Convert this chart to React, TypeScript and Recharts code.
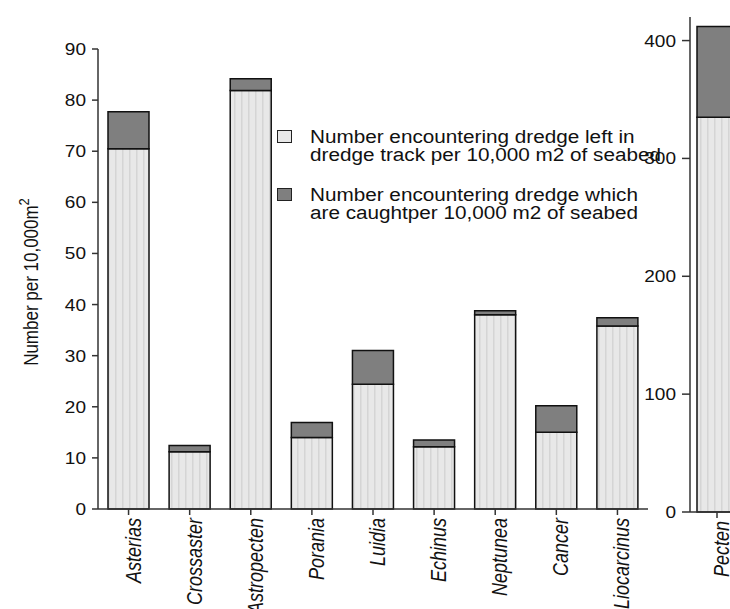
import React from 'react';
import { BarChart, Bar, XAxis, YAxis } from 'recharts';

// Species (main panel) and their densities per 10,000 m2 of seabed
const categories = ['Asterias', 'Crossaster', 'Astropecten', 'Porania', 'Luidia', 'Echinus', 'Neptunea', 'Cancer', 'Liocarcinus'];
const leftInTrack = [70.5, 11.2, 81.9, 14.0, 24.4, 12.2, 38.0, 15.0, 35.8];
const caught = [7.2, 1.2, 2.3, 2.9, 6.6, 1.3, 0.8, 5.2, 1.6];

// Pecten is drawn on its own scale
const pectenCategories = ['Pecten'];
const pectenLeftInTrack = [335];
const pectenCaught = [77];

const mainTicks = [0, 10, 20, 30, 40, 50, 60, 70, 80, 90];
const pectenTicks = [0, 100, 200, 300, 400];

const seriesNames = [
  'Number encountering dredge left in\ndredge track per 10,000 m2 of seabed',
  'Number encountering dredge which\nare caughtper 10,000 m2 of seabed',
];
const yAxisTitle = 'Number per 10,000m';
const yAxisTitleSup = '2';

const FONT = '"Liberation Sans", Arial, sans-serif';
const LIGHT_BG = '#e8e8e8';
const DARK = '#7f7f7f';
const AXIS = '#333';

const mainData = categories.map((name, i) => ({ name, left: leftInTrack[i], caught: caught[i] }));
const pectenData = pectenCategories.map((name, i) => ({ name, left: pectenLeftInTrack[i], caught: pectenCaught[i] }));

const StripeDefs = ({ id }: { id: string }) => (
  <defs>
    <pattern id={id} patternUnits="userSpaceOnUse" width={7} height={10}>
      <rect x={0} y={0} width={7} height={10} fill={LIGHT_BG} />
      <rect x={3} y={0} width={1.5} height={10} fill="#d5d5d5" />
    </pattern>
  </defs>
);

// Rotated italic species names; glyphs are drawn slightly wide
const CategoryTick = (props: any) => {
  const { x, y, payload } = props;
  return (
    <text
      transform={`translate(${x + 12},${y}) rotate(-90) scale(1,1.25)`}
      textAnchor="end"
      fontStyle="italic"
      fontSize={18}
      fontFamily={FONT}
      fill="#111"
    >
      {payload.value}
    </text>
  );
};

const YTitle = () => (
  <text transform="translate(38,282) rotate(-90) scale(1,1.15)" textAnchor="middle" fontSize={17} fontFamily={FONT} fill="#111">
    {yAxisTitle}
    <tspan fontSize={13} dy={-8}>{yAxisTitleSup}</tspan>
  </text>
);

const ValueTick = (props: any) => {
  const { x, y, payload } = props;
  return (
    <text
      transform={`translate(${x},${y}) scale(1.12,1)`}
      textAnchor="end"
      dy="0.355em"
      fontSize={17}
      fontFamily={FONT}
      fill="#111"
    >
      {payload.value}
    </text>
  );
};

// Series key, drawn over the main panel
const SeriesKey = () => (
  <div style={{ position: 'absolute', left: 277, top: 128, fontFamily: FONT, fontSize: 18, lineHeight: '18px', color: '#111' }}>
    {seriesNames.map((n, i) => (
      <div key={i} style={{ position: 'relative', height: 58, paddingLeft: 33 }}>
        <div
          style={{
            position: 'absolute',
            left: 0,
            top: 2,
            width: 13,
            height: 11,
            border: '1.5px solid #222',
            background: i === 0 ? LIGHT_BG : DARK,
          }}
        />
        <div style={{ whiteSpace: 'pre', transform: 'scaleX(1.15)', transformOrigin: 'left' }}>{n}</div>
      </div>
    ))}
  </div>
);

export default function App() {
  return (
    <div style={{ position: 'absolute', left: 0, top: 0, width: 730, height: 609, overflow: 'hidden', background: '#fff' }}>
      <div style={{ position: 'absolute', left: 0, top: 0 }}>
        <BarChart width={700} height={609} data={mainData} margin={{ top: 49, right: 52, bottom: 0, left: 0 }} barSize={41}>
          <StripeDefs id="stripes" />
          <XAxis
            dataKey="name"
            interval={0}
            height={100}
            tick={<CategoryTick />}
            tickSize={6}
            tickMargin={3}
            axisLine={{ stroke: AXIS, strokeWidth: 1.5 }}
            tickLine={{ stroke: AXIS, strokeWidth: 1.5 }}
          />
          <YAxis
            width={98}
            domain={[0, 90]}
            ticks={mainTicks}
            interval={0}
            tickSize={6}
            tickMargin={6}
            axisLine={{ stroke: AXIS, strokeWidth: 1.5 }}
            tickLine={{ stroke: AXIS, strokeWidth: 1.5 }}
            tick={<ValueTick />}
            label={<YTitle />}
          />
          <Bar dataKey="left" name={seriesNames[0]} stackId="a" fill="url(#stripes)" stroke="#111" strokeWidth={1.5} isAnimationActive={false} />
          <Bar dataKey="caught" name={seriesNames[1]} stackId="a" fill={DARK} stroke="#111" strokeWidth={1.5} isAnimationActive={false} />
        </BarChart>
      </div>
      <div style={{ position: 'absolute', left: 620, top: 0 }}>
        <BarChart width={124} height={609} data={pectenData} margin={{ top: 17, right: 0, bottom: 0, left: 0 }} barSize={41}>
          <StripeDefs id="stripes2" />
          <XAxis
            dataKey="name"
            interval={0}
            height={97}
            tick={<CategoryTick />}
            tickSize={6}
            tickMargin={3}
            axisLine={{ stroke: AXIS, strokeWidth: 1.5 }}
            tickLine={{ stroke: AXIS, strokeWidth: 1.5 }}
          />
          <YAxis
            width={70}
            domain={[0, 420]}
            ticks={pectenTicks}
            interval={0}
            tickSize={8}
            tickMargin={6}
            axisLine={{ stroke: AXIS, strokeWidth: 1.5 }}
            tickLine={{ stroke: AXIS, strokeWidth: 1.5 }}
            tick={<ValueTick />}
          />
          <Bar dataKey="left" stackId="a" fill="url(#stripes2)" stroke="#111" strokeWidth={1.5} isAnimationActive={false} />
          <Bar dataKey="caught" stackId="a" fill={DARK} stroke="#111" strokeWidth={1.5} isAnimationActive={false} />
        </BarChart>
      </div>
      <SeriesKey />
    </div>
  );
}
